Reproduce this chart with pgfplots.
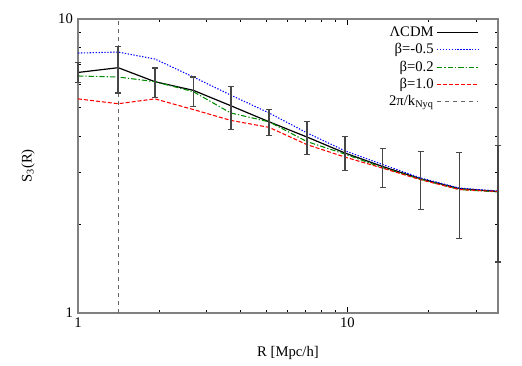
\documentclass[border=0pt]{standalone}
\usepackage{fontspec}
\setmainfont{Liberation Serif}
\usepackage{pgfplots}
\pgfplotsset{compat=1.18}
\definecolor{gpblue}{RGB}{0,0,255}
\definecolor{gpgreen}{RGB}{0,140,0}
\definecolor{gpred}{RGB}{255,0,0}
\definecolor{barcol}{RGB}{70,70,70}

\begin{document}
\fontsize{11}{13}\selectfont
\begin{tikzpicture}
\begin{axis}[
    set layers=standard,
    scale only axis,
    width=315pt, height=220.5pt,
    clip=false,
    xmode=log, ymode=log,
    xmin=1, xmax=36.2, ymin=1, ymax=10,
    xtick={1,10}, xticklabels={1,10},
    ytick={1,10}, yticklabels={1,10},
    minor xtick={2,3,4,5,6,7,8,9,20,30},
    minor ytick={2,3,4,5,6,7,8,9},
    tick style={black, line width=0.6pt},
    major tick length=4.5pt, minor tick length=2.5pt,
    axis line style={black!50, line width=0.8pt},
    /pgf/number format/assume math mode=true,
    ticklabel style={font=\fontsize{11}{13}\selectfont},
    xlabel={R [Mpc/h]},
    ylabel={S\textsubscript{3}(R)},
    xlabel style={at={(axis description cs:0.5,-0.136)}, anchor=center},
    ylabel style={at={(axis description cs:-0.119,0.5)}, anchor=center},
    legend plot pos=right,
    legend cell align=right,
    legend style={at={(0.955,0.983)}, anchor=north east, draw=none, fill=none,
        inner sep=0pt, row sep=-0.4pt, font=\fontsize{11}{13}\selectfont},
    legend image code/.code={\draw[#1] (0pt,0pt) -- (31pt,0pt);},
]
% error bars of the LCDM measurement
\addplot[forget plot, on layer=axis foreground, draw=none, mark=none,
    error bars/.cd, y dir=both, y explicit,
    error bar style={barcol, line width=1.1pt, solid},
    error mark options={barcol, rotate=90, mark size=2.3pt, line width=0.9pt}]
coordinates {
    (1.00,6.58)  += (0,0.52) -= (0,0.51)
    (1.41,6.83)  += (0,1.24) -= (0,1.23)
    (1.93,6.12)  += (0,0.69) -= (0,0.71)
    (2.68,5.72)  += (0,0.63) -= (0,0.68)
    (3.69,5.07)  += (0,0.83) -= (0,0.87)
    (5.12,4.47)  += (0,0.45) -= (0,0.46)
    (7.07,3.97)  += (0,0.50) -= (0,0.50)
    (9.80,3.50)  += (0,0.49) -= (0,0.45)
    (13.5,3.15)  += (0,0.48) -= (0,0.48)
    (18.7,2.86)  += (0,0.68) -= (0,0.61)
    (26.0,2.65)  += (0,0.87) -= (0,0.86)
    (36.2,2.59)  += (0,1.12) -= (0,1.10)
};
\addplot[black, mark=none, line width=0.9pt] coordinates {
    (1.00,6.58) (1.41,6.83) (1.93,6.12) (2.68,5.72) (3.69,5.07) (5.12,4.47)
    (7.07,3.97) (9.80,3.50) (13.5,3.15) (18.7,2.86) (26.0,2.65) (36.2,2.59)
};
\addlegendentry{ΛCDM}
\addplot[gpblue, mark=none, line width=0.8pt, dash pattern=on 1pt off 1.2pt] coordinates {
    (1.00,7.66) (1.41,7.72) (1.93,7.31) (2.68,6.35) (3.69,5.51) (5.12,4.79)
    (7.07,4.10) (9.80,3.56) (13.5,3.20) (18.7,2.88) (26.0,2.66) (36.2,2.60)
};
\addlegendentry{β=-0.5}
\addplot[gpgreen, mark=none, line width=0.8pt, dash pattern=on 4pt off 1.5pt on 1pt off 1.5pt] coordinates {
    (1.00,6.40) (1.41,6.35) (1.93,6.12) (2.68,5.66) (3.69,4.79) (5.12,4.47)
    (7.07,3.83) (9.80,3.47) (13.5,3.12) (18.7,2.85) (26.0,2.63) (36.2,2.58)
};
\addlegendentry{β=0.2}
\addplot[gpred, mark=none, line width=0.8pt, dash pattern=on 3pt off 1.5pt] coordinates {
    (1.00,5.35) (1.41,5.15) (1.93,5.35) (2.68,4.92) (3.69,4.52) (5.12,4.28)
    (7.07,3.74) (9.80,3.39) (13.5,3.11) (18.7,2.84) (26.0,2.63) (36.2,2.59)
};
\addlegendentry{β=1.0}
\addplot[black!60, mark=none, line width=0.9pt, dash pattern=on 3pt off 3pt] coordinates {
    (1.414,1) (1.414,10)
};
\addlegendentry{2π/k\textsubscript{Nyq}}
\end{axis}
\path (-58.5pt,-39pt) rectangle (333pt,234.75pt);
\end{tikzpicture}
\end{document}
